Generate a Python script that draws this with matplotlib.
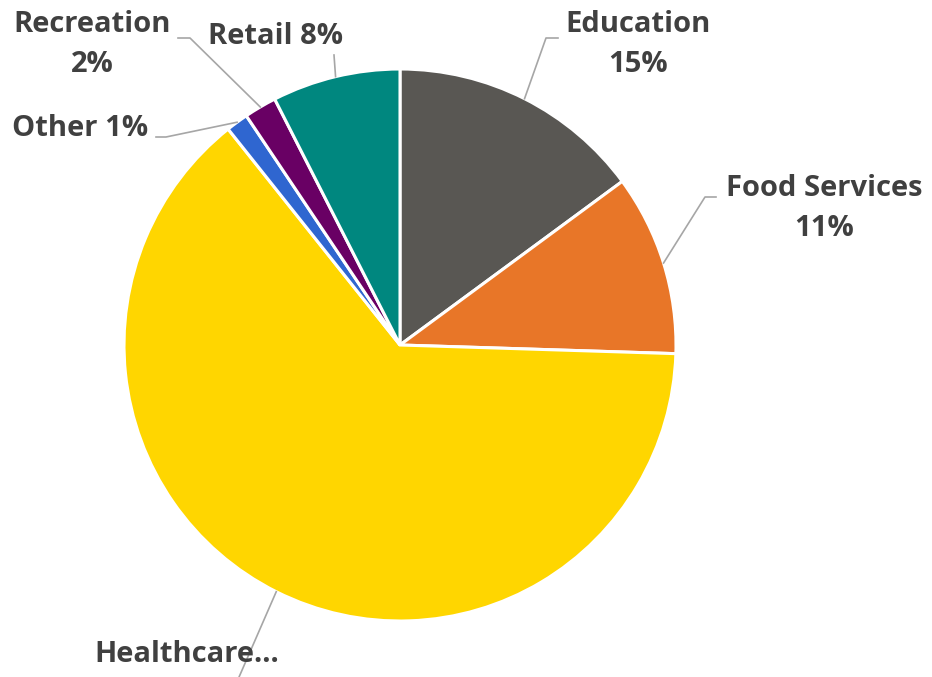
import numpy as np
import matplotlib.pyplot as plt

sectors = ["Education", "Food Services", "Healthcare", "Other", "Recreation", "Retail"]
shares = [14.9, 10.6, 63.8, 1.3, 1.9, 7.5]
colors = ["#595753", "#E87628", "#FFD600", "#2F66D0", "#690064", "#00877F"]

label_ink = "#404040"
leader_ink = "#A6A6A6"

fig = plt.figure(figsize=(9.32, 6.77), dpi=100)
ax = fig.add_axes([0, 0, 1, 1])

wedges, _ = ax.pie(shares, colors=colors, startangle=90, counterclock=False,
                   radius=1, center=(0, 0),
                   wedgeprops=dict(edgecolor="white", linewidth=2.2))

# pie centre sits at pixel (400, 345) with radius 276 px
ax.set_xlim(-400 / 276, 532 / 276)
ax.set_ylim(-332 / 276, 345 / 276)
ax.set_aspect("equal")
ax.axis("off")


def px(x, y):
    return (x - 400) / 276, (345 - y) / 276


# label text position, elbow and end of the leader line (pixel coords)
layout = {
    "Education":     dict(text=(638, 44), elbow=(546, 38), end=(558, 38), two_lines=True),
    "Food Services": dict(text=(824, 208), elbow=(705, 197), end=(716, 197), two_lines=True),
    "Healthcare":    dict(text=(187, 655), elbow=(236, 684), end=(236, 684), two_lines=False),
    "Other":         dict(text=(80, 128), elbow=(166, 137), end=(156, 137), two_lines=False),
    "Recreation":    dict(text=(92, 45), elbow=(190, 38), end=(178, 38), two_lines=True),
    "Retail":        dict(text=(275, 36), elbow=(334, 55), end=(334, 55), two_lines=False),
}

for w, name, val in zip(wedges, sectors, shares):
    spec = layout[name]
    mid = np.deg2rad((w.theta1 + w.theta2) / 2)
    start = (np.cos(mid), np.sin(mid))
    ex, ey = px(*spec["elbow"])
    nx, ny = px(*spec["end"])
    ax.plot([start[0], ex, nx], [start[1], ey, ny], color=leader_ink,
            linewidth=1.2, zorder=1)
    if name == "Healthcare":
        txt = "Healthcare…"
    elif spec["two_lines"]:
        txt = f"{name}\n{val:.0f}%"
    else:
        txt = f"{name} {val:.0f}%"
    tx, ty = px(*spec["text"])
    ax.text(tx, ty, txt, ha="center", va="center", fontsize=21,
            fontweight="bold", family="Open Sans", color=label_ink,
            linespacing=1.5, zorder=5)

fig.savefig("out.png", dpi=100)
